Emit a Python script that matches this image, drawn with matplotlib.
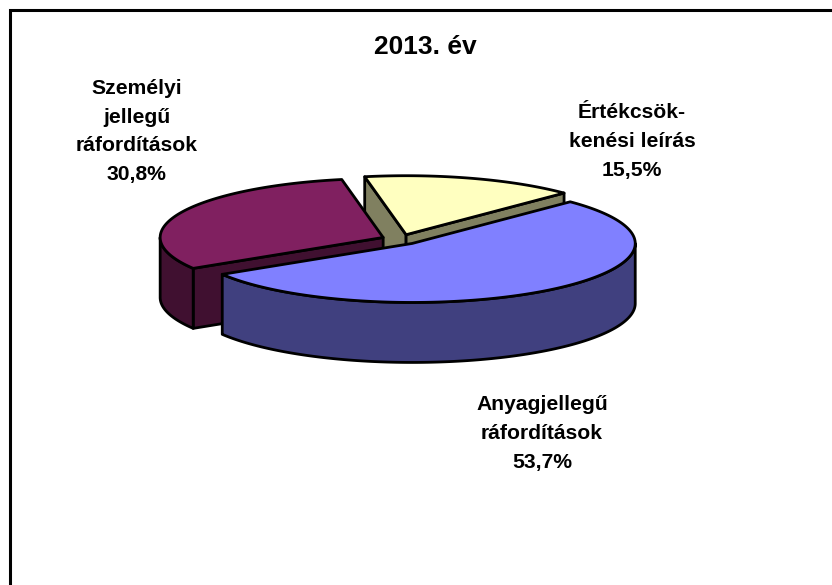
import numpy as np
import matplotlib
matplotlib.use("Agg")
import matplotlib.pyplot as plt
from matplotlib.patches import Polygon

# --- data ---
title = "2013. év"
categories = ["Anyagjellegű\nráfordítások", "Személyi\njellegű\nráfordítások", "Értékcsök-\nkenési leírás"]
values = [53.7, 30.8, 15.5]
top_colors = ["#8080FF", "#802060", "#FFFFC0"]
side_colors = ["#40407F", "#401030", "#808060"]
label_pos = [(542, 433.5), (136.5, 131.5), (632, 141.5)]

# --- geometry (pixel space) ---
W, H = 832, 585
CX, CY = 400.5, 239.5
A, B = 223.0, 59.0
DEPTH = 60.0
EXPLODE = 0.085
START = -44.9  # degrees, clockwise from +x on screen
LW = 2.0

fig = plt.figure(figsize=(W / 100, H / 100), dpi=100)
ax = fig.add_axes([0, 0, 1, 1])
ax.set_xlim(0, W)
ax.set_ylim(H, 0)
ax.axis("off")

spans = np.array(values) / sum(values) * 360.0
starts = START + np.concatenate([[0], np.cumsum(spans)[:-1]])


def rim(apex, t0, t1):
    t = np.radians(np.linspace(t0, t1, max(int(abs(t1 - t0)) * 2, 2)))
    return np.column_stack([apex[0] + A * np.cos(t), apex[1] + B * np.sin(t)])


def poly(pts, color, z):
    ax.add_patch(Polygon(pts, closed=True, facecolor=color, edgecolor="black",
                         linewidth=LW, joinstyle="round", zorder=z))


drop = np.array([0, DEPTH])
slices = []
for i, (s, sp) in enumerate(zip(starts, spans)):
    mid = np.radians(s + sp / 2)
    apex = np.array([CX + EXPLODE * A * np.cos(mid), CY + EXPLODE * B * np.sin(mid)])
    slices.append((apex, s, s + sp))

# Yellow slice (back): two cut faces, then its top
apex, t0, t1 = slices[2]
z = 1
r = rim(apex, t0, t1)
for edge in (r[0], r[-1]):
    poly([apex, edge, edge + drop, apex + drop], side_colors[2], z)
poly(np.vstack([[apex], r]), top_colors[2], z + 1)

# Purple slice: cut face, outer wall, top
apex, t0, t1 = slices[1]
z = 3
r = rim(apex, t0, t1)
poly([apex, r[0], r[0] + drop, apex + drop], side_colors[1], z)
wall = rim(apex, t0, max(t0, 180))
poly(np.vstack([wall, (wall + drop)[::-1]]), side_colors[1], z)
poly(np.vstack([[apex], r]), top_colors[1], z + 1)

# Blue slice (front): outer wall, top
apex, t0, t1 = slices[0]
z = 5
r = rim(apex, t0, t1)
wall = rim(apex, max(t0, 0), t1)
poly(np.vstack([wall, (wall + drop)[::-1]]), side_colors[0], z)
poly(np.vstack([[apex], r]), top_colors[0], z + 1)

# Outer frame: only left and top edges fall inside the picture
ax.plot([10, 10, W + 5], [H + 5, 10, 10], color="black", lw=2.2, zorder=10,
        solid_joinstyle="miter", clip_on=True)

font = dict(family="Liberation Sans", weight="bold", color="black", ha="center", va="center")
ax.text(425.5, 46.5, title, fontsize=19, **font)
for cat, v, (x, y) in zip(categories, values, label_pos):
    txt = f"{cat}\n{v:.1f}%".replace(".", ",")
    ax.text(x, y, txt, fontsize=15.25, linespacing=1.66, **font)

fig.savefig("out.png", dpi=100, facecolor="white")
